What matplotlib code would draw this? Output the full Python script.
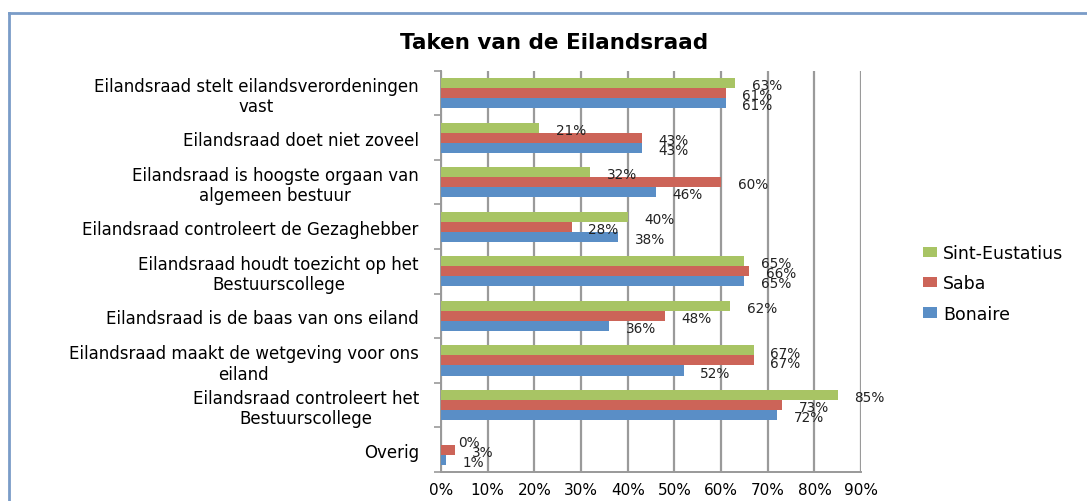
import numpy as np
import matplotlib
matplotlib.use("Agg")
import matplotlib.pyplot as plt
from matplotlib.lines import Line2D

categories = [
    "Eilandsraad stelt eilandsverordeningen\nvast",
    "Eilandsraad doet niet zoveel",
    "Eilandsraad is hoogste orgaan van\nalgemeen bestuur",
    "Eilandsraad controleert de Gezaghebber",
    "Eilandsraad houdt toezicht op het\nBestuurscollege",
    "Eilandsraad is de baas van ons eiland",
    "Eilandsraad maakt de wetgeving voor ons\neiland",
    "Eilandsraad controleert het\nBestuurscollege",
    "Overig",
]
sint_eustatius = [63, 21, 32, 40, 65, 62, 67, 85, 0]
saba = [61, 43, 60, 28, 66, 48, 67, 73, 3]
bonaire = [61, 43, 46, 38, 65, 36, 52, 72, 1]

series = [
    ("Sint-Eustatius", sint_eustatius, "#a8c464"),
    ("Saba", saba, "#cc6458"),
    ("Bonaire", bonaire, "#5a8ec6"),
]

plt.rcParams["font.family"] = ["DejaVu Sans"]

fig = plt.figure(figsize=(10.87, 5.02), dpi=100)
ax = fig.add_axes([0.4057, 0.058, 0.3865, 0.799])

n = len(categories)
y = np.arange(n)
h = 0.225
offsets = [-h, 0, h]

for (name, vals, col), off in zip(series, offsets):
    ax.barh(y + off, vals, height=h, color=col, label=name, zorder=3)
    for yy, v in zip(y + off, vals):
        ax.annotate(f"{v}%", (v, yy), xytext=(12, -1.5), textcoords="offset points",
                    ha="left", va="center", fontsize=9.8, color="#222222", zorder=4)

ax.set_ylim(n - 0.5, -0.5)
ax.set_xlim(0, 90)
ax.set_xticks(np.arange(0, 91, 10))
ax.set_xticklabels([f"{t}%" for t in range(0, 91, 10)], fontsize=11)
ax.set_yticks(y)
ax.set_yticklabels(categories, fontsize=12, multialignment="center", linespacing=1.15)
ax.set_yticks(np.arange(-0.5, n, 1), minor=True)
ax.tick_params(axis="y", which="major", length=0, pad=16)
ax.tick_params(axis="y", which="minor", length=5, color="#999999", width=1.2)
ax.tick_params(axis="x", length=0, pad=7)

ax.grid(axis="x", color="#9a9a9a", linewidth=1.6, zorder=0)
for s in ["top", "right"]:
    ax.spines[s].set_visible(False)
for s in ["left", "bottom"]:
    ax.spines[s].set_color("#999999")
    ax.spines[s].set_linewidth(1.4)

fig.text(0.51, 0.915, "Taken van de Eilandsraad", ha="center", va="center",
         fontsize=15.5, fontweight="bold")

ax.legend(loc="center left", bbox_to_anchor=(1.11, 0.47), frameon=False,
          fontsize=12.5, labelspacing=0.7, handlelength=0.8, handleheight=0.55,
          handletextpad=0.35)

# chart border (top and left edges visible)
fig.add_artist(Line2D([0.0083, 1.0], [0.973, 0.973], transform=fig.transFigure,
                      color="#7a9cc8", linewidth=2.0))
fig.add_artist(Line2D([0.0083, 0.0083], [0.0, 0.973], transform=fig.transFigure,
                      color="#7a9cc8", linewidth=2.0))

fig.savefig("out.png", dpi=100)
